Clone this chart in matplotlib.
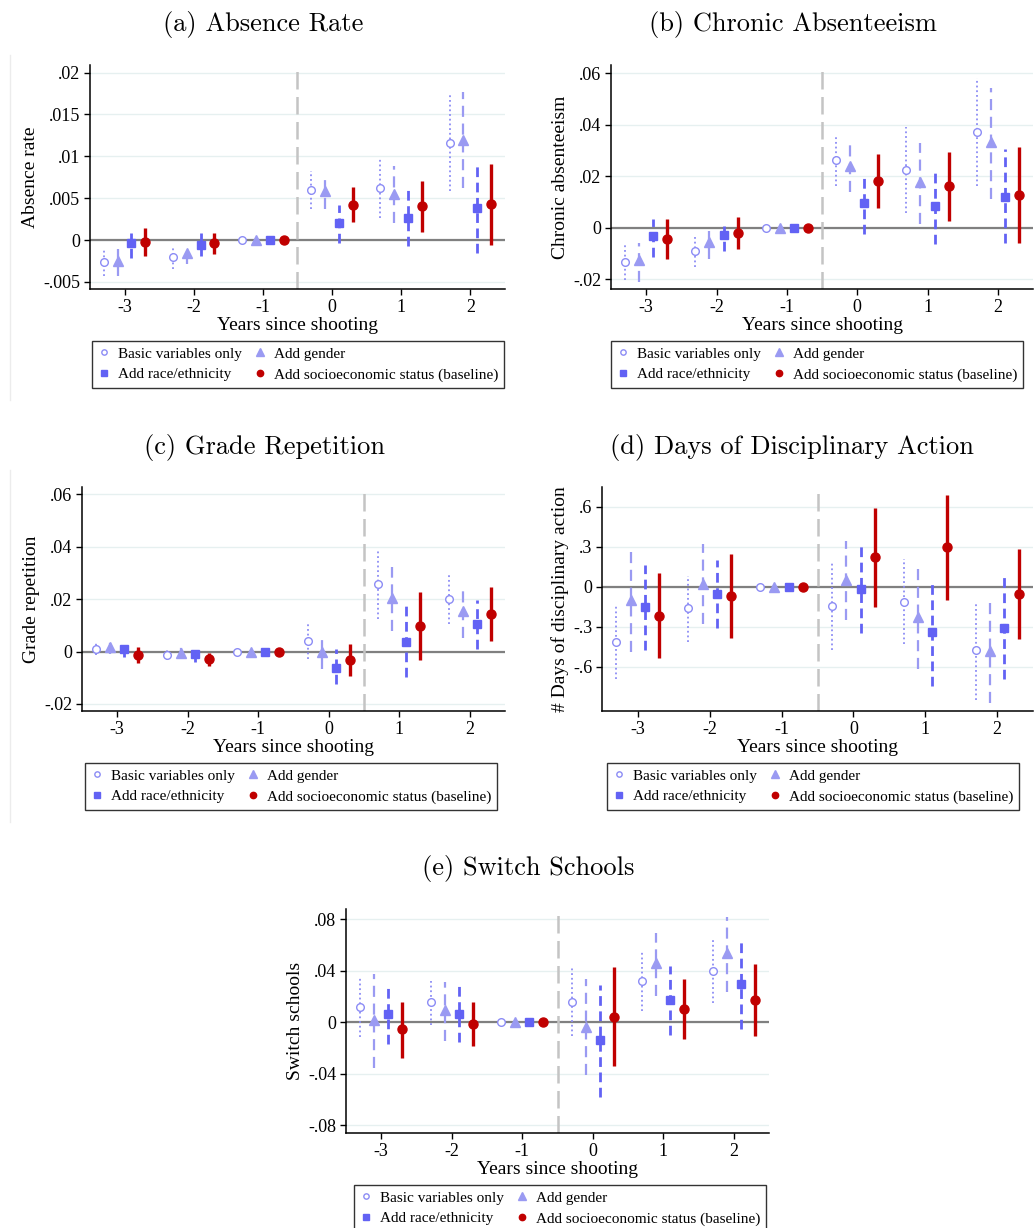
import matplotlib
matplotlib.use("Agg")
import matplotlib.pyplot as plt
import numpy as np
from matplotlib.ticker import FuncFormatter
from matplotlib.lines import Line2D

W, H = 1036, 1228

years = [-3, -2, -1, 0, 1, 2]

# rows: basic, gender, race/ethnicity, ses
a_est = [[-0.0026, -0.0020, 0, 0.0060, 0.0062, 0.0116],
         [-0.0025, -0.0015, 0, 0.0058, 0.0055, 0.0120],
         [-0.0004, -0.0006, 0, 0.0020, 0.0026, 0.0038],
         [-0.0002, -0.0004, 0, 0.0042, 0.0041, 0.0043]]
a_lo = [[-0.0043, -0.0034, 0, 0.0037, 0.0026, 0.0058],
        [-0.0043, -0.0029, 0, 0.0037, 0.0020, 0.0062],
        [-0.0021, -0.0019, 0, -0.0004, -0.0007, -0.0015],
        [-0.0019, -0.0017, 0, 0.0021, 0.0010, -0.0006]]
a_hi = [[-0.0011, -0.0008, 0, 0.0082, 0.0098, 0.0173],
        [-0.0011, -0.0008, 0, 0.0077, 0.0088, 0.0177],
        [0.0011, 0.0008, 0, 0.0042, 0.0060, 0.0091],
        [0.0014, 0.0009, 0, 0.0063, 0.0071, 0.0091]]

b_est = [[-0.0132, -0.0089, 0, 0.0262, 0.0225, 0.0372],
         [-0.0126, -0.0055, 0, 0.0240, 0.0178, 0.0333],
         [-0.0032, -0.0028, 0, 0.0095, 0.0084, 0.0119],
         [-0.0043, -0.0019, 0, 0.0183, 0.0163, 0.0128]]
b_lo = [[-0.0204, -0.0150, 0, 0.0163, 0.0059, 0.0161],
        [-0.0208, -0.0120, 0, 0.0137, 0.0015, 0.0110],
        [-0.0114, -0.0090, 0, -0.0022, -0.0061, -0.0059],
        [-0.0120, -0.0083, 0, 0.0076, 0.0028, -0.0057]]
b_hi = [[-0.0057, -0.0027, 0, 0.0357, 0.0390, 0.0580],
        [-0.0059, -0.0012, 0, 0.0328, 0.0328, 0.0543],
        [0.0035, 0.0019, 0, 0.0210, 0.0231, 0.0306],
        [0.0034, 0.0043, 0, 0.0288, 0.0294, 0.0312]]

c_est = [[0.0010, -0.0014, 0, 0.0040, 0.0259, 0.0200],
         [0.0017, -0.0004, 0, 0.0000, 0.0203, 0.0153],
         [0.0010, -0.0010, 0, -0.0061, 0.0038, 0.0104],
         [-0.0013, -0.0029, 0, -0.0032, 0.0097, 0.0144]]
c_lo = [[-0.0013, -0.0034, 0, -0.0028, 0.0126, 0.0104],
        [-0.0009, -0.0029, 0, -0.0066, 0.0078, 0.0051],
        [-0.0022, -0.0040, 0, -0.0125, -0.0098, 0.0009],
        [-0.0042, -0.0054, 0, -0.0092, -0.0034, 0.0042]]
c_hi = [[0.0032, 0.0006, 0, 0.0106, 0.0392, 0.0296],
        [0.0038, 0.0018, 0, 0.0065, 0.0322, 0.0240],
        [0.0038, 0.0019, 0, 0.0009, 0.0172, 0.0197],
        [0.0017, -0.0005, 0, 0.0029, 0.0227, 0.0246]]

d_est = [[-0.41, -0.16, 0, -0.14, -0.11, -0.475],
         [-0.0975, 0.0225, 0, 0.0525, -0.2225, -0.48],
         [-0.1525, -0.055, 0, -0.0175, -0.34, -0.31],
         [-0.215, -0.0675, 0, 0.22, 0.30, -0.0525]]
d_lo = [[-0.6925, -0.415, 0, -0.4725, -0.43, -0.8475],
        [-0.485, -0.2775, 0, -0.2475, -0.6175, -0.8725],
        [-0.4725, -0.31, 0, -0.3425, -0.74, -0.69],
        [-0.53, -0.38, 0, -0.1525, -0.095, -0.3875]]
d_hi = [[-0.1275, 0.0775, 0, 0.1825, 0.2075, -0.1175],
        [0.2775, 0.3225, 0, 0.345, 0.14, -0.1175],
        [0.165, 0.2025, 0, 0.3025, 0.0525, 0.0725],
        [0.1025, 0.245, 0, 0.59, 0.69, 0.2825]]

e_est = [[0.0116, 0.0158, 0, 0.0158, 0.0320, 0.0400],
         [0.0018, 0.0096, 0, -0.0034, 0.0457, 0.0535],
         [0.0062, 0.0062, 0, -0.0142, 0.0171, 0.0295],
         [-0.0057, -0.0013, 0, 0.0041, 0.0101, 0.0171]]
e_lo = [[-0.0119, -0.0021, 0, -0.0111, 0.0090, 0.0147],
        [-0.0357, -0.0150, 0, -0.0414, 0.0204, 0.0233],
        [-0.0171, -0.0158, 0, -0.0582, -0.0098, -0.0054],
        [-0.0279, -0.0189, 0, -0.0344, -0.0129, -0.0109]]
e_hi = [[0.0346, 0.0320, 0, 0.0424, 0.0548, 0.0657],
        [0.0377, 0.0310, 0, 0.0333, 0.0690, 0.0819],
        [0.0290, 0.0282, 0, 0.0290, 0.0437, 0.0651],
        [0.0160, 0.0160, 0, 0.0426, 0.0333, 0.0450]]

# style per series: basic, gender, race, ses
offsets = [-0.3, -0.1, 0.1, 0.3]
names = ["Basic variables only", "Add gender", "Add race/ethnicity",
         "Add socioeconomic status (baseline)"]
colors = ["#8c8cf5", "#9a9af2", "#6262f4", "#c00000"]
markers = ["o", "^", "s", "o"]
msizes = [5.5, 7.5, 6, 6.5]
filled = [False, True, True, True]
lstyles = [(0, (1, 1.6)), (0, (5, 3)), (0, (3.5, 2)), "-"]
lwidths = [1.3, 1.6, 2.0, 2.4]

plt.rcParams["font.family"] = ["Liberation Serif", "DejaVu Serif"]


def fmt(v, pos):
    s = f"{v:g}"
    s = s.replace("0.", ".")
    return s


def px(x0, y0, x1, y1):
    return [x0 / W, 1 - y1 / H, (x1 - x0) / W, (y1 - y0) / H]


panels = [
    dict(est=a_est, lo=a_lo, hi=a_hi, box=px(90, 65, 505, 289), ylim=(-0.00584, 0.0209),
         yticks=[-0.005, 0, 0.005, 0.01, 0.015, 0.02], vline=-0.5, ylabel="Absence rate",
         title="(a) Absence Rate", tx=263, ty=25, leg=(298, 341)),
    dict(est=b_est, lo=b_lo, hi=b_hi, box=px(611, 65, 1033, 289), ylim=(-0.0237, 0.0631),
         yticks=[-0.02, 0, 0.02, 0.04, 0.06], vline=-0.5, ylabel="Chronic absenteeism",
         title="(b) Chronic Absenteeism", tx=793, ty=25, leg=(817, 341)),
    dict(est=c_est, lo=c_lo, hi=c_hi, box=px(82, 487, 505, 711), ylim=(-0.0227, 0.0628),
         yticks=[-0.02, 0, 0.02, 0.04, 0.06], vline=0.5, ylabel="Grade repetition",
         title="(c) Grade Repetition", tx=264, ty=447, leg=(291, 763)),
    dict(est=d_est, lo=d_lo, hi=d_hi, box=px(602, 487, 1033, 711), ylim=(-0.93, 0.7475),
         yticks=[-0.6, -0.3, 0, 0.3, 0.6], vline=-0.5, ylabel="# Days of disciplinary action",
         title="(d) Days of Disciplinary Action", tx=792, ty=447, leg=(813, 763)),
    dict(est=e_est, lo=e_lo, hi=e_hi, box=px(346, 909, 769, 1133), ylim=(-0.0861, 0.0879),
         yticks=[-0.08, -0.04, 0, 0.04, 0.08], vline=-0.5, ylabel="Switch schools",
         title="(e) Switch Schools", tx=528, ty=868, leg=(560, 1185)),
]

fig = plt.figure(figsize=(W / 100, H / 100), dpi=100)

for p in panels:
    ax = fig.add_axes(p["box"])
    for yt in p["yticks"]:
        ax.axhline(yt, color="#e6f0f0", lw=1.0, zorder=0)
    ax.axhline(0, color="#808080", lw=1.6, zorder=1)
    ax.axvline(p["vline"], color="#c4c4c4", lw=1.8, ls=(0, (7, 3)), zorder=1)
    handles = []
    for i in range(4):
        x = np.array(years) + offsets[i]
        est = np.array(p["est"][i])
        lo = np.array(p["lo"][i])
        hi = np.array(p["hi"][i])
        ax.vlines(x, lo, hi, colors=colors[i], linestyles=[lstyles[i]],
                  lw=lwidths[i], zorder=2)
        h, = ax.plot(x, est, ls="none", marker=markers[i], ms=msizes[i],
                     mfc=colors[i] if filled[i] else "white",
                     mec=colors[i], mew=1.0, zorder=3, label=names[i])
        handles.append(h)
    ax.set_xlim(-3.5, 2.5)
    ax.set_ylim(*p["ylim"])
    ax.set_xticks(years)
    ax.set_yticks(p["yticks"])
    ax.xaxis.set_major_formatter(FuncFormatter(fmt))
    ax.yaxis.set_major_formatter(FuncFormatter(fmt))
    ax.tick_params(labelsize=13, length=4, width=1, pad=3)
    for s in ["top", "right"]:
        ax.spines[s].set_visible(False)
    ax.spines["left"].set_linewidth(1.1)
    ax.spines["bottom"].set_linewidth(1.1)
    ax.set_xlabel("Years since shooting", fontsize=14, labelpad=1)
    ax.set_ylabel(p["ylabel"], fontsize=14, labelpad=3)
    fig.text(p["tx"] / W, 1 - p["ty"] / H, p["title"], ha="center", va="center",
             fontsize=19, family="cmr10")
    # legend fills column-wise -> basic, race, gender, ses
    order = [0, 2, 1, 3]
    leg = ax.legend([handles[k] for k in order], [names[k] for k in order],
                    ncol=2, loc="upper center",
                    bbox_to_anchor=(p["leg"][0] / W, 1 - p["leg"][1] / H),
                    bbox_transform=fig.transFigure, fontsize=11, frameon=True,
                    fancybox=False, edgecolor="black", markerscale=0.7,
                    handlelength=0.8, handletextpad=0.5, columnspacing=0.8,
                    borderpad=0.4, labelspacing=0.45, borderaxespad=0)
    leg.get_frame().set_linewidth(1.0)

# faint panel borders on the left
fig.add_artist(Line2D([10 / W, 10 / W], [1 - 55 / H, 1 - 400 / H], color="#ececec", lw=1))
fig.add_artist(Line2D([10 / W, 10 / W], [1 - 470 / H, 1 - 822 / H], color="#ececec", lw=1))

fig.savefig("out.png", dpi=100, facecolor="white")
